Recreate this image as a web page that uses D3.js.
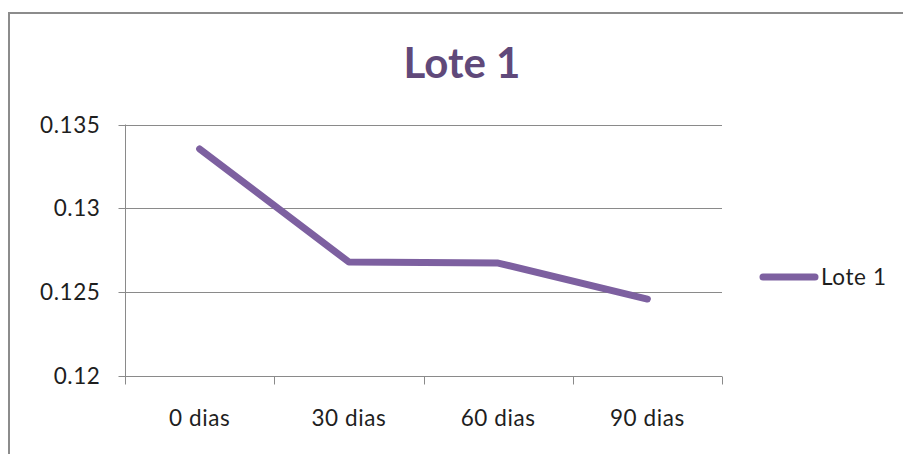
<!DOCTYPE html>
<html>
<head>
<meta charset="utf-8">
<script src="https://cdn.jsdelivr.net/npm/d3@7"></script>
<style>
  html, body { margin: 0; padding: 0; background: #fff; }
  svg { display: block; }
  text { font-family: Lato, "Open Sans", sans-serif; }
  .lbl { font-size: 22.5px; letter-spacing: 0.6px; fill: #1e1e1e; }
</style>
</head>
<body>
<svg id="chart" width="903" height="454"></svg>
<script>
// Data
const categories = ["0 dias", "30 dias", "60 dias", "90 dias"];
const lote1 = [0.13354, 0.12678, 0.12672, 0.12457];
const yTicks = [0.12, 0.125, 0.13, 0.135];
const yTickLabels = ["0.12", "0.125", "0.13", "0.135"];
const seriesName = "Lote 1";
const chartTitle = "Lote 1";

const svg = d3.select("#chart");
const W = 903, H = 454;

// Outer chart frame (top and left edges visible)
svg.append("path")
  .attr("d", `M9,${H} L9,13 L${W},13`)
  .attr("fill", "none")
  .attr("stroke", "#8c8c8c")
  .attr("stroke-width", 2);

const plot = { left: 125, right: 722, top: 124.5, bottom: 375.5 };

const x = d3.scaleBand().domain(categories).range([plot.left, plot.right]).padding(0);
const y = d3.scaleLinear().domain([0.12, 0.135]).range([plot.bottom, plot.top]);

// Horizontal gridlines
svg.append("g")
  .selectAll("line")
  .data(yTicks)
  .join("line")
  .attr("x1", plot.left)
  .attr("x2", plot.right)
  .attr("y1", d => Math.round(y(d)) + 0.5)
  .attr("y2", d => Math.round(y(d)) + 0.5)
  .attr("stroke", "#8a8a8a")
  .attr("stroke-width", 1);

// Y axis
const yAxis = d3.axisLeft(y)
  .tickValues(yTicks)
  .tickFormat((d, i) => yTickLabels[i])
  .tickSize(7)
  .tickPadding(18);
const gy = svg.append("g")
  .attr("transform", `translate(${plot.left + 0.5},0)`)
  .call(yAxis);
gy.select(".domain").remove();
gy.selectAll(".tick").attr("transform", d => `translate(0,${Math.round(y(d)) + 0.5})`);
gy.selectAll(".tick line").attr("stroke", "#8a8a8a");
gy.selectAll(".tick text")
  .attr("class", "lbl")
  .attr("fill", null)
  .attr("font-size", null)
  .attr("font-family", null);
gy.attr("font-size", null).attr("font-family", null);
svg.append("line")
  .attr("x1", plot.left + 0.5).attr("x2", plot.left + 0.5)
  .attr("y1", plot.top).attr("y2", plot.bottom + 8.5)
  .attr("stroke", "#8a8a8a");

// X axis: tick marks on category boundaries, labels at band centres
const gx = svg.append("g").attr("transform", `translate(0,${Math.round(plot.bottom) + 0.5})`);
const boundaries = categories.map(c => x(c)).concat([x(categories[categories.length - 1]) + x.bandwidth()]);
gx.append("line")
  .attr("x1", plot.left).attr("x2", plot.right)
  .attr("stroke", "#8a8a8a");
gx.selectAll("line.tk")
  .data(boundaries)
  .join("line")
  .attr("class", "tk")
  .attr("x1", d => Math.round(d) + 0.5)
  .attr("x2", d => Math.round(d) + 0.5)
  .attr("y1", 0).attr("y2", 8)
  .attr("stroke", "#8a8a8a");
gx.selectAll("text")
  .data(categories)
  .join("text")
  .attr("class", "lbl")
  .attr("x", d => x(d) + x.bandwidth() / 2)
  .attr("y", 49)
  .attr("text-anchor", "middle")
  .text(d => d);

// Series line
const lineGen = d3.line()
  .x((d, i) => x(categories[i]) + x.bandwidth() / 2)
  .y(d => y(d));
svg.append("path")
  .datum(lote1)
  .attr("d", lineGen)
  .attr("fill", "none")
  .attr("stroke", "#7d60a0")
  .attr("stroke-width", 7)
  .attr("stroke-linecap", "round")
  .attr("stroke-linejoin", "round");

// Title
svg.append("text")
  .attr("x", 462)
  .attr("y", 78)
  .attr("text-anchor", "middle")
  .attr("fill", "#60497a")
  .style("font-size", "42px")
  .style("font-weight", "bold")
  .text(chartTitle);

// Legend
const legend = svg.append("g").attr("transform", "translate(0,277)");
legend.append("line")
  .attr("x1", 763).attr("x2", 815)
  .attr("y1", 0).attr("y2", 0)
  .attr("stroke", "#7d60a0")
  .attr("stroke-width", 7)
  .attr("stroke-linecap", "round");
legend.append("text")
  .attr("class", "lbl")
  .attr("x", 821)
  .attr("y", 8)
  .text(seriesName);
</script>
</body>
</html>
